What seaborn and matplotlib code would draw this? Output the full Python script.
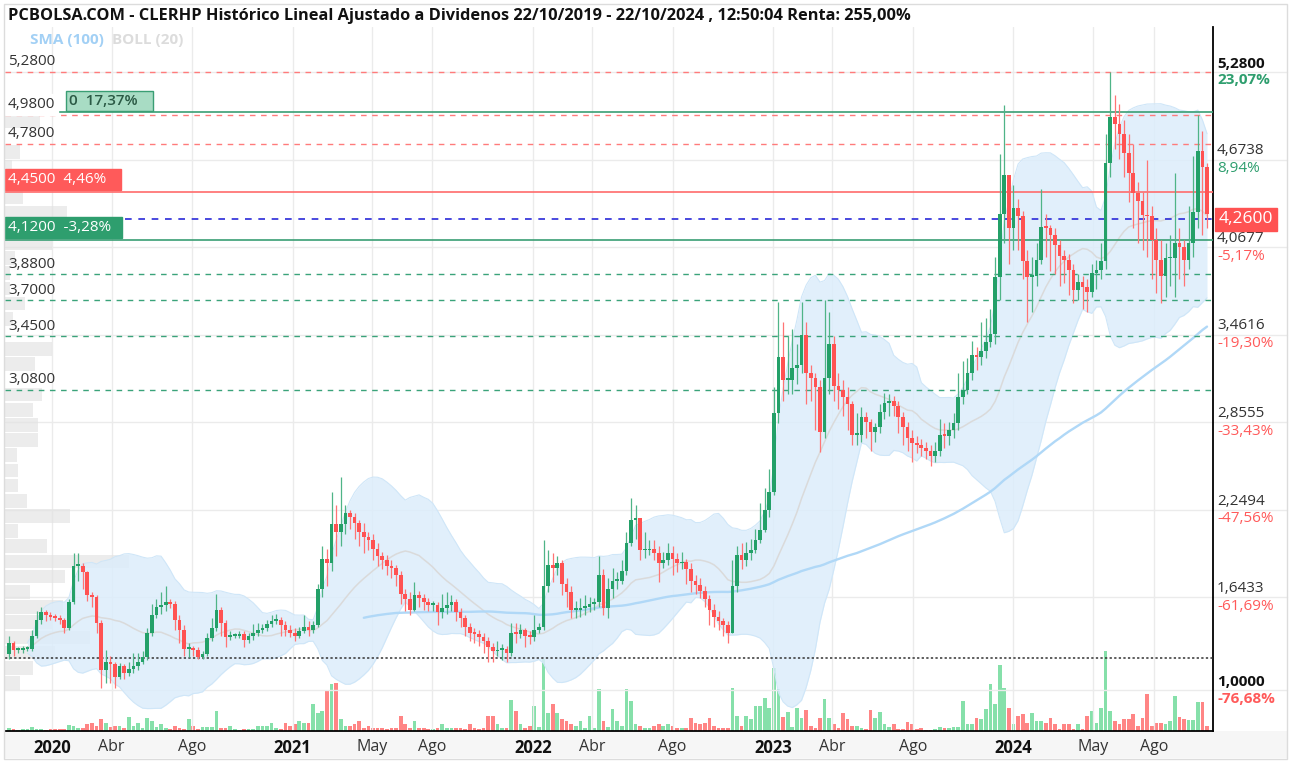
import numpy as np
import pandas as pd
import matplotlib
matplotlib.use("Agg")
import matplotlib.pyplot as plt
import seaborn as sns
from matplotlib.patches import Rectangle

sns.set_theme(style="white")
plt.rcParams["font.family"] = ["Open Sans", "DejaVu Sans"]

# ---------------- data ----------------
start_date = "2019-10-28"
first_open = 1.25

closes = [
    1.33, 1.28, 1.28, 1.29, 1.29, 1.38, 1.49, 1.54, 1.52, 1.51,
    1.50, 1.49, 1.43, 1.61, 1.86, 1.86, 1.82, 1.66, 1.65, 1.47,
    1.14, 1.20, 1.18, 1.09, 1.17, 1.12, 1.15, 1.17, 1.20, 1.23,
    1.40, 1.52, 1.58, 1.59, 1.61, 1.60, 1.49, 1.42, 1.29, 1.29,
    1.28, 1.23, 1.25, 1.36, 1.43, 1.56, 1.47, 1.37, 1.38, 1.38,
    1.39, 1.35, 1.38, 1.40, 1.42, 1.43, 1.46, 1.48, 1.49, 1.45,
    1.42, 1.40, 1.38, 1.41, 1.44, 1.42, 1.45, 1.70, 1.91, 1.88,
    2.15, 2.10, 2.15, 2.23, 2.20, 2.16, 2.10, 2.06, 2.04, 1.98,
    1.93, 1.90, 1.86, 1.85, 1.80, 1.67, 1.63, 1.56, 1.66, 1.64,
    1.61, 1.59, 1.59, 1.54, 1.57, 1.59, 1.61, 1.54, 1.50, 1.44,
    1.40, 1.39, 1.37, 1.34, 1.30, 1.27, 1.28, 1.29, 1.26, 1.40,
    1.39, 1.42, 1.38, 1.37, 1.42, 1.44, 1.72, 1.87, 1.85, 1.88,
    1.74, 1.68, 1.56, 1.56, 1.57, 1.58, 1.60, 1.61, 1.80, 1.57,
    1.70, 1.76, 1.76, 1.83, 2.02, 2.18, 2.19, 1.97, 1.97, 1.98,
    1.95, 1.88, 1.90, 1.95, 1.91, 1.88, 1.89, 1.84, 1.76, 1.73,
    1.69, 1.63, 1.56, 1.51, 1.48, 1.45, 1.40, 1.72, 1.94, 1.90,
    1.95, 1.97, 2.04, 2.11, 2.25, 2.37, 2.92, 3.31, 3.15, 3.15,
    3.23, 3.25, 3.46, 3.20, 3.16, 3.10, 2.79, 3.16, 3.40, 3.11,
    3.08, 3.03, 2.98, 2.77, 2.77, 2.89, 2.86, 2.79, 2.82, 2.93,
    2.99, 3.00, 2.97, 2.89, 2.82, 2.75, 2.71, 2.70, 2.68, 2.66,
    2.62, 2.66, 2.77, 2.76, 2.80, 2.85, 3.03, 3.08, 3.20, 3.32,
    3.31, 3.35, 3.41, 3.47, 3.86, 4.30, 4.57, 4.20, 4.34, 4.28,
    3.97, 3.86, 3.87, 3.98, 4.21, 4.20, 4.15, 4.08, 4.01, 3.98,
    3.91, 3.77, 3.83, 3.79, 3.76, 3.89, 3.91, 3.97, 4.65, 4.97,
    4.92, 4.85, 4.72, 4.58, 4.44, 4.39, 4.29, 4.28, 4.12, 3.98,
    3.87, 3.99, 3.99, 4.10, 4.07, 3.98, 4.10, 4.31, 4.73, 4.62, 4.30,
]

highs = [
    1.38, 1.34, 1.30, 1.31, 1.31, 1.42, 1.55, 1.58, 1.56, 1.54,
    1.53, 1.52, 1.50, 1.63, 1.95, 1.95, 1.88, 1.83, 1.68, 1.66,
    1.49, 1.28, 1.24, 1.20, 1.19, 1.18, 1.20, 1.26, 1.26, 1.27,
    1.43, 1.60, 1.63, 1.68, 1.72, 1.63, 1.62, 1.52, 1.45, 1.33,
    1.31, 1.30, 1.27, 1.40, 1.50, 1.67, 1.58, 1.49, 1.41, 1.40,
    1.41, 1.41, 1.40, 1.46, 1.47, 1.46, 1.49, 1.52, 1.53, 1.51,
    1.48, 1.45, 1.43, 1.44, 1.52, 1.48, 1.48, 1.74, 2.00, 1.98,
    2.37, 2.28, 2.48, 2.28, 2.25, 2.23, 2.18, 2.16, 2.10, 2.08,
    2.02, 1.96, 1.94, 1.90, 1.87, 1.83, 1.70, 1.68, 1.75, 1.69,
    1.67, 1.64, 1.62, 1.61, 1.67, 1.68, 1.66, 1.63, 1.57, 1.52,
    1.47, 1.43, 1.42, 1.40, 1.37, 1.33, 1.34, 1.32, 1.31, 1.47,
    1.47, 1.46, 1.43, 1.41, 1.52, 1.47, 2.04, 1.97, 1.95, 1.93,
    1.90, 1.78, 1.72, 1.62, 1.64, 1.66, 1.65, 1.64, 1.93, 1.84,
    1.78, 1.85, 1.82, 1.90, 2.10, 2.33, 2.28, 2.17, 2.10, 2.04,
    2.04, 2.00, 1.96, 2.02, 2.00, 1.95, 1.96, 1.91, 1.88, 1.80,
    1.78, 1.72, 1.66, 1.60, 1.55, 1.50, 1.48, 1.90, 2.00, 2.02,
    2.03, 2.05, 2.12, 2.30, 2.40, 2.53, 3.10, 3.69, 3.55, 3.45,
    3.50, 3.40, 3.69, 3.55, 3.25, 3.20, 3.15, 3.70, 3.62, 3.45,
    3.20, 3.15, 3.10, 3.00, 2.92, 2.96, 2.93, 2.88, 2.85, 2.98,
    3.06, 3.05, 3.04, 3.00, 2.93, 2.86, 2.80, 2.76, 2.74, 2.72,
    2.70, 2.72, 2.88, 2.85, 2.86, 2.92, 3.20, 3.28, 3.30, 3.42,
    3.38, 3.55, 3.58, 3.64, 4.00, 4.71, 5.05, 4.55, 4.50, 4.40,
    4.32, 4.05, 4.00, 4.10, 4.47, 4.30, 4.22, 4.20, 4.12, 4.05,
    4.02, 3.95, 3.88, 3.87, 3.85, 3.95, 3.98, 4.10, 4.85, 5.28,
    5.12, 5.06, 4.95, 4.85, 4.78, 4.52, 4.45, 4.67, 4.35, 4.20,
    4.12, 4.10, 4.15, 4.58, 4.20, 4.12, 4.35, 4.70, 4.98, 4.87, 4.65,
]

lows = [
    1.22, 1.24, 1.26, 1.26, 1.27, 1.27, 1.36, 1.46, 1.48, 1.49,
    1.48, 1.46, 1.40, 1.42, 1.60, 1.76, 1.70, 1.62, 1.58, 1.40,
    1.02, 1.05, 1.05, 1.02, 1.08, 1.08, 1.10, 1.12, 1.14, 1.18,
    1.21, 1.38, 1.50, 1.53, 1.55, 1.57, 1.42, 1.33, 1.24, 1.23,
    1.24, 1.22, 1.22, 1.24, 1.34, 1.41, 1.38, 1.30, 1.35, 1.36,
    1.36, 1.30, 1.33, 1.35, 1.38, 1.40, 1.41, 1.44, 1.46, 1.38,
    1.38, 1.37, 1.34, 1.36, 1.40, 1.38, 1.40, 1.44, 1.65, 1.72,
    1.83, 1.93, 2.00, 2.08, 2.12, 2.05, 2.00, 1.95, 1.97, 1.90,
    1.86, 1.84, 1.80, 1.78, 1.72, 1.60, 1.55, 1.52, 1.55, 1.58,
    1.56, 1.55, 1.55, 1.45, 1.50, 1.53, 1.55, 1.48, 1.44, 1.38,
    1.34, 1.33, 1.31, 1.26, 1.20, 1.20, 1.24, 1.21, 1.20, 1.24,
    1.33, 1.36, 1.30, 1.32, 1.34, 1.40, 1.42, 1.68, 1.75, 1.80,
    1.66, 1.58, 1.50, 1.50, 1.51, 1.52, 1.54, 1.56, 1.58, 1.52,
    1.50, 1.64, 1.70, 1.74, 1.80, 2.00, 2.05, 1.90, 1.92, 1.94,
    1.90, 1.75, 1.85, 1.87, 1.80, 1.82, 1.84, 1.74, 1.68, 1.67,
    1.64, 1.58, 1.45, 1.44, 1.42, 1.38, 1.33, 1.40, 1.68, 1.84,
    1.86, 1.90, 1.95, 2.02, 2.10, 2.20, 2.35, 2.85, 3.00, 3.05,
    3.05, 3.12, 3.20, 2.98, 3.00, 2.80, 2.65, 2.75, 3.05, 3.00,
    2.95, 2.90, 2.80, 2.70, 2.70, 2.72, 2.75, 2.66, 2.72, 2.78,
    2.88, 2.90, 2.90, 2.78, 2.70, 2.66, 2.58, 2.64, 2.62, 2.60,
    2.55, 2.58, 2.62, 2.68, 2.70, 2.75, 2.80, 2.98, 3.05, 3.15,
    3.22, 3.25, 3.30, 3.38, 3.40, 3.70, 4.10, 3.95, 4.05, 4.05,
    3.85, 3.55, 3.62, 3.80, 3.95, 4.00, 3.90, 3.88, 3.80, 3.82,
    3.74, 3.68, 3.70, 3.64, 3.62, 3.72, 3.78, 3.85, 3.92, 4.55,
    4.75, 4.68, 4.55, 4.38, 4.20, 4.10, 4.05, 4.00, 3.85, 3.75,
    3.68, 3.72, 3.80, 3.72, 3.85, 3.80, 3.92, 4.00, 4.20, 4.15, 4.20,
]

volumes = [
    3, 2, 1, 2, 2, 4, 2, 2, 1, 2,
    2, 2, 2, 6, 5, 3, 3, 7, 8, 5,
    12, 8, 4, 5, 5, 3, 14, 5, 8, 3,
    13, 10, 4, 7, 3, 2, 5, 3, 2, 12,
    5, 2, 4, 4, 4, 20, 3, 3, 5, 2,
    1, 2, 2, 2, 5, 5, 5, 8, 3, 2,
    8, 5, 7, 10, 8, 8, 27, 18, 20, 40,
    47, 48, 12, 5, 5, 7, 10, 3, 5, 3,
    3, 3, 2, 3, 3, 15, 7, 3, 10, 3,
    3, 2, 2, 3, 7, 3, 3, 3, 3, 2,
    7, 3, 2, 3, 15, 15, 7, 3, 3, 31,
    20, 7, 3, 5, 25, 4, 72, 18, 27, 18,
    12, 10, 7, 5, 10, 3, 15, 3, 42, 10,
    4, 22, 10, 5, 42, 30, 7, 5, 3, 3,
    5, 7, 5, 7, 5, 3, 3, 3, 13, 8,
    7, 8, 13, 5, 3, 3, 3, 43, 15, 5,
    15, 12, 25, 25, 33, 23, 63, 42, 14, 19,
    4, 23, 13, 21, 5, 3, 13, 32, 13, 7,
    3, 18, 12, 5, 5, 3, 2, 21, 13, 19,
    7, 4, 7, 2, 2, 9, 7, 2, 3, 1,
    1, 2, 4, 3, 3, 4, 4, 30, 7, 7,
    13, 12, 22, 47, 27, 66, 43, 23, 7, 15,
    17, 8, 18, 10, 10, 8, 13, 7, 2, 7,
    7, 2, 7, 2, 15, 20, 8, 23, 80, 20,
    10, 7, 12, 12, 17, 5, 13, 37, 5, 8,
    8, 7, 10, 35, 14, 12, 11, 11, 29, 29, 5,
]

# volume-by-price profile, from the lowest price bin upwards
profile_start = 1.0
profile_step = 0.105
profile_volume = [15, 28, 50, 85, 47, 58, 25, 60, 125, 42, 13, 65, 22, 13, 13,
                  12, 33, 33, 28, 37, 0, 30, 47, 0, 8, 20, 5, 5, 10, 47, 47,
                  62, 18, 0, 7, 15, 0, 35]

tick_dates = ["2020-01-01", "2020-04-01", "2020-08-01", "2021-01-01", "2021-05-01",
              "2021-08-01", "2022-01-01", "2022-04-01", "2022-08-01", "2023-01-01",
              "2023-04-01", "2023-08-01", "2024-01-01", "2024-05-01", "2024-08-01"]
tick_labels = ["2020", "Abr", "Ago", "2021", "May", "Ago", "2022", "Abr", "Ago",
               "2023", "Abr", "Ago", "2024", "May", "Ago"]

right_ticks = [5.28, 4.6738, 4.0677, 3.4616, 2.8555, 2.2494, 1.6433, 1.0]
right_tick_labels = ["5,2800", "4,6738", "4,0677", "3,4616", "2,8555", "2,2494", "1,6433", "1,0000"]
right_pct_labels = ["23,07%", "8,94%", "-5,17%", "-19,30%", "-33,43%", "-47,56%", "-61,69%", "-76,68%"]

resistance_levels = [5.28, 4.98, 4.78]
resistance_labels = ["5,2800", "4,9800", "4,7800"]
support_levels = [3.88, 3.70, 3.45, 3.08]
support_labels = ["3,8800", "3,7000", "3,4500", "3,0800"]
upper_target = 5.00
upper_target_label = "0  17,37%   "
stop_red = 4.45
stop_red_label = "4,4500  4,46%   "
stop_green = 4.12
stop_green_label = "4,1200  -3,28%  "
last_price = 4.26
last_label = "4,2600"
base_price = 1.225

title = ("PCBOLSA.COM - CLERHP Histórico Lineal Ajustado a Dividenos 22/10/2019 - "
         "22/10/2024 , 12:50:04 Renta: 255,00%")

# ---------------- frame ----------------
df = pd.DataFrame({"close": closes, "high": highs, "low": lows, "volume": volumes})
df["open"] = df["close"].shift(1).fillna(first_open)
df["idx"] = np.arange(len(df))
df["up"] = df["close"] >= df["open"]
mid = df["close"].rolling(20, min_periods=5).mean()
sd = df["close"].rolling(20, min_periods=5).std(ddof=0)
df["bb_mid"] = mid
df["bb_up"] = mid + 2 * sd
df["bb_lo"] = mid - 2 * sd
df["sma"] = df["close"].rolling(100, min_periods=78).mean()

d0 = pd.Timestamp(start_date)
tick_pos = [(pd.Timestamp(d) - d0).days / 7.0 for d in tick_dates]

W, H = 1292, 764
fig = plt.figure(figsize=(W / 100, H / 100), dpi=100)
fig.patch.set_facecolor("white")
L, R, T, B = 5, 1213, 27, 731
ax = fig.add_axes([L / W, 1 - B / H, (R - L) / W, (B - T) / H])
axv = ax.twinx()
ax.set_zorder(axv.get_zorder() + 1)
ax.patch.set_visible(False)
axv.patch.set_facecolor("white")

ax.set_xlim(-0.87, 261.3)
ax.set_ylim(0.7194, 5.5914)

GREEN = "#23a068"
RED = "#ff5252"
GREEN_W = "#4fb487"
RED_W = "#ff7474"

# volume
vcol = np.where(df["up"], "#86e0aa", "#ff8585")
axv.bar(df["idx"], df["volume"], width=0.8, color=vcol, linewidth=0)
axv.set_ylim(0, max(volumes) * 8.8)
axv.set_yticks([])
for s in axv.spines.values():
    s.set_visible(False)

# grid
xr = (1287 - L) / (R - L)
for lv in right_ticks:
    ax.axhline(lv, xmin=0, xmax=xr, color="#ebebeb", lw=1, zorder=0, clip_on=False)
for p in tick_pos:
    ax.axvline(p, color="#ebebeb", lw=1, zorder=0)

# volume profile
pcent = profile_start + profile_step * (np.arange(len(profile_volume)) + 0.5)
pw = np.array(profile_volume) / max(profile_volume) * 27.0
ax.barh(pcent, pw, height=profile_step * 0.9, left=-0.87, color="#e2e2e2",
        alpha=0.65, linewidth=0, zorder=1)

# bollinger
ax.fill_between(df["idx"], df["bb_lo"], df["bb_up"], color="#dcedfb", alpha=0.85,
                linewidth=0, zorder=2)
ax.plot(df["idx"], df["bb_up"], color="#cfe6f8", lw=0.8, zorder=2)
ax.plot(df["idx"], df["bb_lo"], color="#cfe6f8", lw=0.8, zorder=2)
sns.lineplot(x=df["idx"], y=df["bb_mid"], ax=ax, color="#dadada", lw=1.1, zorder=3)
sns.lineplot(x=df["idx"], y=df["sma"], ax=ax, color="#b0d8f7", lw=1.7, zorder=3)

# levels
dash = (0, (4, 4))
for lv in resistance_levels:
    ax.axhline(lv, color="#ff7b7b", lw=1, ls=dash, zorder=4)
for lv in support_levels:
    ax.axhline(lv, color="#3aa37a", lw=1, ls=dash, zorder=4)
ax.axhline(last_price, color="#2a2ad8", lw=1.2, ls=dash, zorder=4)
ax.axhline(stop_red, color="#ff6b6b", lw=1.2, zorder=4)
ax.axhline(stop_green, color="#3a9e74", lw=1.2, zorder=4)
ax.axhline(upper_target, color="#3a9e74", lw=1.2, zorder=4)
ax.axhline(base_price, color="#333333", lw=1.1, ls=(0, (1.5, 1.5)), zorder=4)

# candles
wcol = np.where(df["up"], GREEN_W, RED_W)
ccol = np.where(df["up"], GREEN, RED)
ax.vlines(df["idx"], df["low"], df["high"], colors=wcol, lw=0.9, zorder=5)
body_lo = np.minimum(df["open"], df["close"])
body_h = np.maximum(np.abs(df["close"] - df["open"]), 0.012)
ax.bar(df["idx"], body_h, bottom=body_lo, width=0.8, color=ccol, linewidth=0, zorder=6)

# ---------------- text ----------------
ytr = ax.get_yaxis_transform()
FS = 11
lx = 3 / (R - L)
for lv, lab in zip(resistance_levels + support_levels, resistance_labels + support_labels):
    if lv == resistance_levels[1]:
        continue
    ax.annotate(lab, xy=(lx, lv), xycoords=ytr, xytext=(0, 2), textcoords="offset points",
                fontsize=FS, color="#333333", va="bottom", ha="left", zorder=8)

def box_label(xa, level, text, fc, ec, tc, dy=3.5, z=9, weight="normal"):
    ax.annotate(text, xy=(xa, level), xycoords=ytr, xytext=(0, dy),
                textcoords="offset points", fontsize=FS, color=tc, va="bottom",
                ha="left", zorder=z, fontweight=weight,
                bbox=dict(boxstyle="square,pad=0.2", fc=fc, ec=ec, lw=1))

# green target box (partly hidden behind the 4,9800 label) + white label
box_label(64 / (R - L), upper_target, upper_target_label, "#a8dcc4", "#3a9e74",
          "#2b5a45", dy=3.5, weight="semibold")
box_label(lx, resistance_levels[1], resistance_labels[1], "white", "white", "#333333",
          dy=2.5, z=10)
box_label(lx, stop_red, stop_red_label, "#ff5a5a", "#ff5a5a", "white")
box_label(lx, stop_green, stop_green_label, "#2e9e6e", "#2e9e6e", "white")

rx = 1 + 4 / (R - L)
for i, (lv, lab, pct) in enumerate(zip(right_ticks, right_tick_labels, right_pct_labels)):
    bold = i in (0, len(right_ticks) - 1)
    pc = "#2e9e6e" if lv > last_price else "#ff5a5a"
    ax.annotate(lab, xy=(rx, lv), xycoords=ytr, xytext=(0, 1), textcoords="offset points",
                fontsize=FS, color="#111111" if bold else "#333333", va="bottom",
                ha="left", fontweight="bold" if bold else "normal", annotation_clip=False)
    ax.annotate(pct, xy=(rx, lv), xycoords=ytr, xytext=(0, -1), textcoords="offset points",
                fontsize=FS, color=pc, va="top", ha="left",
                fontweight="bold" if bold else "normal", annotation_clip=False)

ax.annotate(last_label, xy=(1.0, last_price), xycoords=ytr, xytext=(4, 0),
            textcoords="offset points", fontsize=12.5, color="white", va="center",
            ha="left", annotation_clip=False, zorder=12,
            bbox=dict(boxstyle="square,pad=0.2", fc="#ff5252", ec="#ff5252"))

ax.set_yticks([])
ax.set_xticks(tick_pos)
ax.set_xticklabels(tick_labels)
for t, lab in zip(ax.get_xticklabels(), tick_labels):
    if lab.isdigit():
        t.set_fontweight("bold")
        t.set_fontsize(12)
        t.set_color("#111111")
    else:
        t.set_fontsize(11.5)
        t.set_color("#333333")
ax.tick_params(axis="x", length=0, pad=6)
ax.tick_params(axis="y", length=0)
for k in ("left", "top"):
    ax.spines[k].set_visible(False)
for k in ("bottom", "right"):
    ax.spines[k].set_color("black")
    ax.spines[k].set_linewidth(1.3)
ax.set_xlabel("")
ax.set_ylabel("")
axv.set_ylabel("")

fig.text(8 / W, 1 - 16 / H, title, fontsize=11.8, fontweight="bold", color="#111111",
         va="center", ha="left")
fig.text(30 / W, 1 - 40 / H, "SMA (100)", fontsize=11, fontweight="bold",
         color="#a2d0f5", va="center", ha="left")
fig.text(112 / W, 1 - 40 / H, "BOLL (20)", fontsize=11, fontweight="bold",
         color="#dcdcdc", va="center", ha="left")

fig.add_artist(Rectangle((L / W, 1 - 758 / H), (1287 - L) / W, (758 - B) / H,
                         transform=fig.transFigure, facecolor="#f6f6f6",
                         edgecolor="none", zorder=-1))
fig.add_artist(Rectangle((4 / W, 1 - 759 / H), (1287 - 4) / W, (759 - 4) / H,
                         transform=fig.transFigure, fill=False, edgecolor="#dcdcdc",
                         lw=1, zorder=20))

fig.savefig("out.png", dpi=100, facecolor="white")
